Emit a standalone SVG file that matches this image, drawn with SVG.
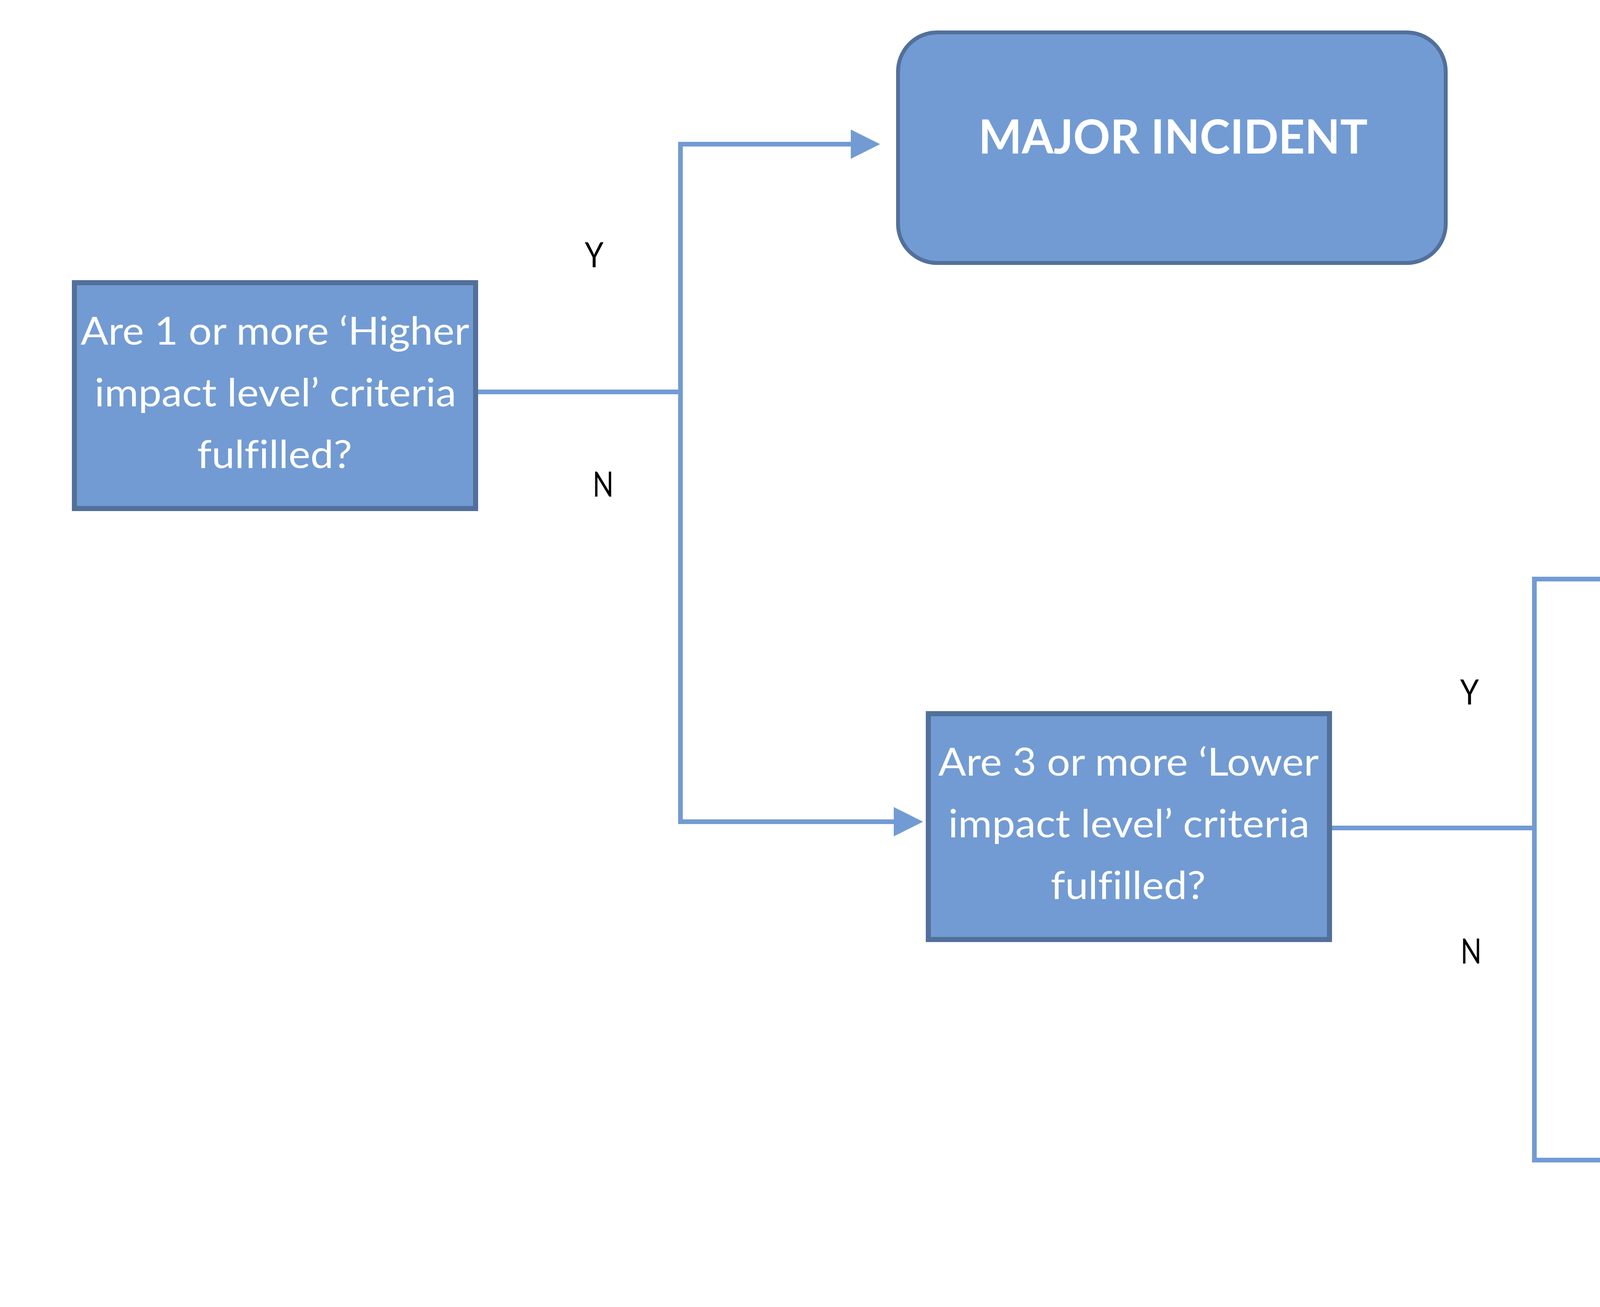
<svg xmlns="http://www.w3.org/2000/svg" width="6042" height="3345" viewBox="0 0 6042 3345">
<style>
.q{fill:#729BD3;stroke:#52709B;stroke-width:13}
.r{fill:#729BD3;stroke:#52709B;stroke-width:10}
text{font-variant-ligatures:none;font-feature-settings:"liga" 0}
.t{font-family:Lato,"Open Sans","Liberation Sans",sans-serif;font-size:99px;fill:#FFFFFF;text-anchor:middle}
.b{font-family:Lato,"Open Sans","Liberation Sans",sans-serif;font-size:121px;font-weight:bold;fill:#FFFFFF;text-anchor:middle}
.l{font-family:Lato,"Liberation Sans",sans-serif;font-size:89px;fill:#000000;text-anchor:middle}
.c{fill:none;stroke:#729BD3;stroke-width:12;stroke-linejoin:miter}
</style>
<defs>
<marker id="ah" markerUnits="userSpaceOnUse" markerWidth="76" markerHeight="76" refX="0" refY="37.5" orient="auto">
<path d="M0,0 L75,37.5 L0,75 z" fill="#729BD3"/>
</marker>
</defs>
<rect width="6042" height="3345" fill="#FFFFFF"/>
<g id="connectors">
<path class="c" d="M1224,1003 H1742 V369 H2178" marker-end="url(#ah)"/>
<path class="c" d="M1742,1003 V2103 H2288" marker-end="url(#ah)"/>
<path class="c" d="M3410,2119 H3928 V1482 H4364" marker-end="url(#ah)"/>
<path class="c" d="M3928,2119 V2969 H4422" marker-end="url(#ah)"/>
<text class="l" x="1521" y="684" textLength="48" lengthAdjust="spacingAndGlyphs">Y</text>
<text class="l" x="1544" y="1271" textLength="54" lengthAdjust="spacingAndGlyphs">N</text>
<text class="l" x="3762" y="1803" textLength="48" lengthAdjust="spacingAndGlyphs">Y</text>
<text class="l" x="3766" y="2466" textLength="54" lengthAdjust="spacingAndGlyphs">N</text>
</g>
<g id="q1">
<rect class="q" x="190.5" y="723.5" width="1027" height="578"/>
<text class="t" x="704" y="882" textLength="995" lengthAdjust="spacingAndGlyphs">Are 1 or more ‘Higher</text>
<text class="t" x="705" y="1040" textLength="926" lengthAdjust="spacingAndGlyphs">impact level’ criteria</text>
<text class="t" x="703" y="1198" textLength="397" lengthAdjust="spacingAndGlyphs">fulfilled?</text>
</g>
<g id="q2">
<rect class="q" x="2376.5" y="1826.5" width="1027" height="578"/>
<text class="t" x="2889" y="1985" textLength="974" lengthAdjust="spacingAndGlyphs">Are 3 or more ‘Lower</text>
<text class="t" x="2890" y="2143" textLength="925" lengthAdjust="spacingAndGlyphs">impact level’ criteria</text>
<text class="t" x="2888" y="2301" textLength="397" lengthAdjust="spacingAndGlyphs">fulfilled?</text>
</g>
<g id="major1">
<rect class="r" x="2299" y="83" width="1402" height="590" rx="100" ry="100"/>
<text class="b" x="3003" y="393" textLength="996" lengthAdjust="spacingAndGlyphs">MAJOR INCIDENT</text>
</g>
<g id="major2">
<rect class="r" x="4463" y="1171" width="1400" height="590" rx="100" ry="100"/>
<text class="b" x="5166" y="1484" textLength="994" lengthAdjust="spacingAndGlyphs">MAJOR INCIDENT</text>
</g>
<g id="nonmajor">
<rect class="r" x="4533" y="2647" width="1402" height="591" rx="100" ry="100"/>
<text class="b" x="5236" y="2898" textLength="761" lengthAdjust="spacingAndGlyphs">NON- MAJOR</text>
<text class="b" x="5237" y="3066" textLength="544" lengthAdjust="spacingAndGlyphs">INCIDENT</text>
</g>
</svg>
